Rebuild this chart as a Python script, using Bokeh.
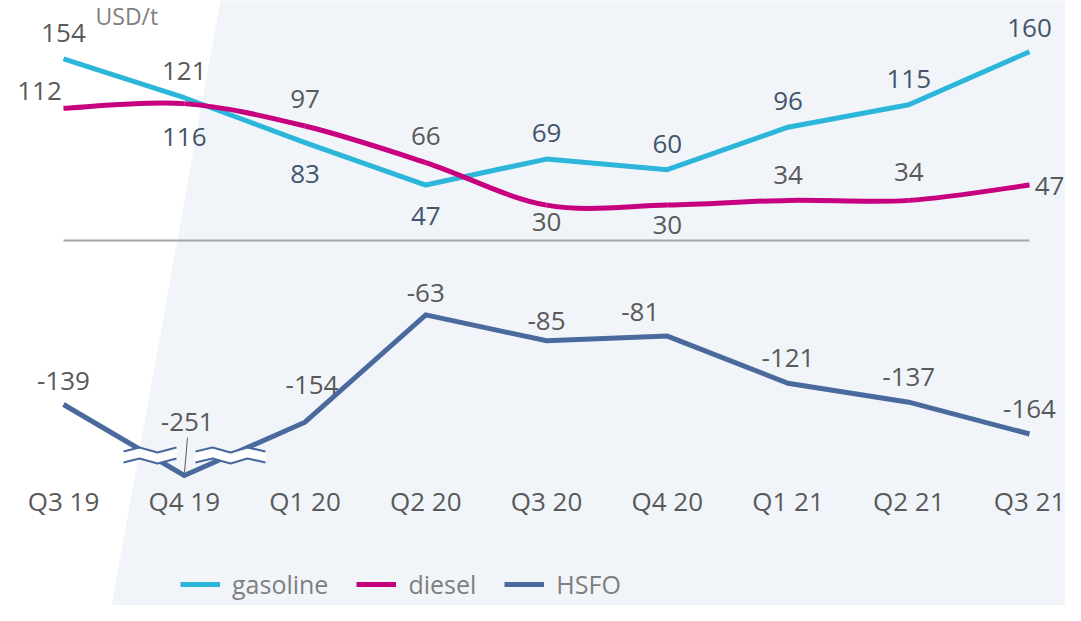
import numpy as np
from bokeh.plotting import figure
from bokeh.models import Range1d, Legend, LegendItem, ColumnDataSource, Label
from bokeh.embed import file_html
from bokeh.resources import INLINE
from bokeh.core.properties import value

# ---------------- data ----------------
quarters = ["Q3 19", "Q4 19", "Q1 20", "Q2 20", "Q3 20", "Q4 20", "Q1 21", "Q2 21", "Q3 21"]
gasoline = [154, 121, 83, 47, 69, 60, 96, 115, 160]
diesel = [112, 116, 97, 66, 30, 30, 34, 34, 47]
hsfo = [-139, -251, -154, -63, -85, -81, -121, -137, -164]
series_names = ["gasoline", "diesel", "HSFO"]
unit_label = "USD/t"

# ---------------- styles / layout ----------------
C_GAS = "#2cb7da"
C_DIE = "#c6007e"
C_HSFO = "#4a6a9d"
C_TXT = "#595959"
C_SLATE = "#44546a"
BG = "#f1f5fa"
FONT = "Open Sans"
LBL_SIZE = "26px"

W, H = 1065, 605
RX0, RDX = 63.0, 120.75          # px of first category, px per category
RY0, RSY = 240.0, 1.18           # px of zero, px per USD/t
BRK, K = -170.0, 0.36            # axis break: values below BRK are compressed


def axis_break(v):
    return v if v >= BRK else BRK + (v - BRK) * K


def ref2data(rx, ry):
    """Pixel position -> data coordinates (decorations only)."""
    return (rx - RX0) / RDX, (RY0 - ry) / RSY


xa, ya = ref2data(0, H)
xb, yb = ref2data(W, 0)
p = figure(width=W, height=H, output_backend="svg", toolbar_location=None,
           x_range=Range1d(xa, xb), y_range=Range1d(ya, yb),
           min_border=0, outline_line_color=None)
p.axis.visible = False
p.grid.visible = False
p.background_fill_color = "white"
p.border_fill_color = "white"

# background diagonal panel
bg_pts = [ref2data(*pt) for pt in [(223.5, -20), (1100, -20), (1100, 650), (103, 650)]]
p.patch([q[0] for q in bg_pts], [q[1] for q in bg_pts], fill_color=BG, line_color=None)

idx = list(range(len(quarters)))

# zero line
p.line([idx[0], idx[-1]], [0, 0], line_color="#a6a6a6", line_width=2)

# gasoline (straight)
r_gas = p.line(idx, gasoline, line_color=C_GAS, line_width=5, line_join="round")

# diesel (smoothed, Catmull-Rom via bezier segments)
d = np.array(diesel, dtype=float)
xi = np.array(idx, dtype=float)
n = len(d)
x0s, y0s, x1s, y1s, cx0, cy0, cx1, cy1 = [], [], [], [], [], [], [], []
for i in range(n - 1):
    im1 = max(i - 1, 0)
    ip2 = min(i + 2, n - 1)
    x0s.append(xi[i]); y0s.append(d[i]); x1s.append(xi[i + 1]); y1s.append(d[i + 1])
    cx0.append(xi[i] + (xi[i + 1] - xi[im1]) / 6.0)
    cy0.append(d[i] + (d[i + 1] - d[im1]) / 6.0)
    cx1.append(xi[i + 1] - (xi[ip2] - xi[i]) / 6.0)
    cy1.append(d[i + 1] - (d[ip2] - d[i]) / 6.0)
r_die = p.bezier(x0=x0s, y0=y0s, x1=x1s, y1=y1s, cx0=cx0, cy0=cy0, cx1=cx1, cy1=cy1,
                 line_color=C_DIE, line_width=5)

# HSFO (with axis break)
hsfo_disp = [axis_break(v) for v in hsfo]
r_hsfo = p.line(idx, hsfo_disp, line_color=C_HSFO, line_width=5, line_join="miter")


# axis-break marks
def band(xs_ref, ys_ref, gap=11):
    top = [ref2data(x, y) for x, y in zip(xs_ref, ys_ref)]
    bot = [ref2data(x, y + gap) for x, y in zip(xs_ref, ys_ref)]
    bx = [q[0] for q in top] + [q[0] for q in bot[::-1]]
    by = [q[1] for q in top] + [q[1] for q in bot[::-1]]
    p.patch(bx, by, fill_color="white", line_color=None)
    p.line([q[0] for q in top], [q[1] for q in top], line_color=C_HSFO, line_width=2.2)
    p.line([q[0] for q in bot], [q[1] for q in bot], line_color=C_HSFO, line_width=2.2)


band([123, 139, 157, 176], [451, 447, 452, 447])
band([195, 212, 230, 247, 265], [451, 447, 452, 447, 451])

# leader line for the broken value
la = ref2data(187, 437)
lb = ref2data(184, 472)
p.line([la[0], lb[0]], [la[1], lb[1]], line_color="#595959", line_width=1)


# data labels
def labels(vals, disp, dx, dy, colors):
    src = ColumnDataSource(dict(x=idx, y=disp, t=[str(v) for v in vals], dx=dx, dy=dy, c=colors))
    p.text("x", "y", text="t", x_offset="dx", y_offset="dy", source=src,
           text_align="center", text_baseline="middle", text_color="c",
           text_font=value(FONT), text_font_size=LBL_SIZE)


G, S = C_TXT, C_SLATE
labels(gasoline, gasoline, [0] * 9, [-26, -27, 31, 31, -26, -26, -26, -26, -24],
       [G, G, S, S, S, S, S, S, S])
labels(diesel, diesel, [-24, 0, 0, 0, 0, 0, 0, 0, 20], [-17, 33, -27, -27, 17, 20, -25, -28, 1],
       [G, S, G, G, G, G, G, G, G])
labels(hsfo, hsfo_disp, [0, 3, 7, 0, 0, -27, 0, 0, 0], [-24, -54, -37, -22, -20, -24, -25, -25, -25],
       [G] * 9)

# category labels
ty = ref2data(0, 500)[1]
p.text(idx, [ty] * len(idx), text=quarters, text_align="center", text_baseline="middle",
       text_color=C_TXT, text_font=value(FONT), text_font_size=LBL_SIZE)

# unit label
ux, uy = ref2data(95, 15)
p.add_layout(Label(x=ux, y=uy, text=unit_label, text_align="left", text_baseline="middle",
                   text_color="#808080", text_font=FONT, text_font_size="23px"))

legend = Legend(items=[LegendItem(label=series_names[0], renderers=[r_gas]),
                       LegendItem(label=series_names[1], renderers=[r_die]),
                       LegendItem(label=series_names[2], renderers=[r_hsfo])],
                orientation="horizontal", location=(180, 4),
                glyph_width=40, glyph_height=20, label_standoff=12, spacing=28,
                padding=0, margin=0, background_fill_alpha=0, border_line_alpha=0,
                label_text_font=FONT, label_text_font_size="25px",
                label_text_color="#7f7f7f")
p.add_layout(legend)

open("out.html", "w").write(file_html(p, INLINE))
